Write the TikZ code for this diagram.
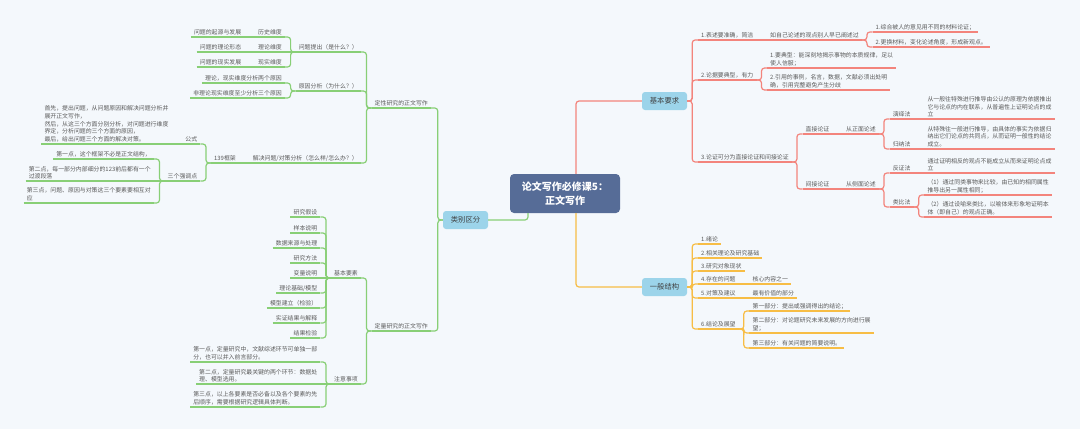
\documentclass[tikz,border=0pt]{standalone}
\usepackage{fontspec}
\setmainfont{Noto Sans CJK SC}
\usetikzlibrary{positioning}

\definecolor{bgc}{HTML}{F4F8FC}
\definecolor{txtc}{HTML}{5A5A5A}
\definecolor{lgreen}{HTML}{88CF76}
\definecolor{lred}{HTML}{F3847C}
\definecolor{lorange}{HTML}{F7BD45}
\definecolor{bluebox}{HTML}{9CD4EA}
\definecolor{rootc}{HTML}{566C97}

\tikzset{
  tp/.style={font=\fontsize{5.9}{7.7}\selectfont, text=txtc, inner xsep=3pt, inner ysep=1.6pt, align=left},
  gline/.style={draw=lgreen, line width=1.2pt, rounded corners=3pt},
  rline/.style={draw=lred, line width=1.2pt, rounded corners=3pt},
  oline/.style={draw=lorange, line width=1.2pt, rounded corners=3pt},
  gt/.style={tp, anchor=south east, append after command={(\tikzlastnode.south west) edge[gline] (\tikzlastnode.south east)}},
  rt/.style={tp, anchor=south west, append after command={(\tikzlastnode.south west) edge[rline] (\tikzlastnode.south east)}},
  ot/.style={tp, anchor=south west, append after command={(\tikzlastnode.south west) edge[oline] (\tikzlastnode.south east)}},
  lj/.style={to path={-- ++(-5pt,0) |- (\tikztotarget)}},
  rj/.style={to path={-- ++(5pt,0) |- (\tikztotarget)}},
  mainbox/.style={fill=bluebox, rounded corners=3pt, minimum width=45pt, minimum height=18pt, font=\fontsize{7.3}{9}\selectfont, text=black!75},
  rootbox/.style={fill=rootc, rounded corners=4pt, minimum width=110pt, minimum height=39pt, font=\fontsize{10}{14}\selectfont\bfseries, text=white, align=center}
}

\begin{document}
\begin{tikzpicture}[x=1pt,y=-1pt]
\fill[bgc] (0,0) rectangle (1080,429);
\useasboundingbox (0,0) rectangle (1080,429);

\node[rootbox] (root) at (565,193.5) {论文写作必修课5：\\正文写作};
\node[mainbox] (lbqf) at (465.5,220) {类别区分};
\node[mainbox] (jbyq) at (664.5,101) {基本要求};
\node[mainbox] (ybjg) at (664.5,287) {一般结构};

\draw[gline] ([xshift=-37pt]root.south) |- (lbqf.east);
\draw[rline] ([xshift=11pt]root.north) |- (jbyq.west);
\draw[oline] ([xshift=11pt]root.south) |- (ybjg.west);

% 类别区分
\node[gt] (dxyj) at (431,108) {定性研究的正文写作};
\node[gt] (dlyj) at (431,331) {定量研究的正文写作};
\path[gline] (lbqf.west) edge[lj] (dxyj.south east) edge[lj] (dlyj.south east);

\node[gt] (wttc) at (361,52) {问题提出（是什么？）};
\node[gt] (yyfx) at (361,91) {原因分析（为什么？）};
\node[gt] (jjwt) at (361,163) {解决问题/对策分析（怎么样/怎么办？）};
\path[gline] (dxyj.south west) edge[lj] (wttc.south east) edge[lj] (yyfx.south east) edge[lj] (jjwt.south east);

\node[gt] (lswd) at (285,37) {历史维度};
\node[gt] (llwd) at (285,52) {理论维度};
\node[gt] (xswd) at (285,67) {现实维度};
\path[gline] (wttc.south west) edge[lj] (lswd.south east) edge (llwd.south east) edge[lj] (xswd.south east);
\node[gt] (lsfz) at (244.4,37) {问题的起源与发展};
\node[gt] (llxt) at (244.4,52) {问题的理论形态};
\node[gt] (xsfz) at (244.4,67) {问题的现实发展};
\path[gline] (lswd.south west) edge (lsfz.south east);
\path[gline] (llwd.south west) edge (llxt.south east);
\path[gline] (xswd.south west) edge (xsfz.south east);

\node[gt] (yy2) at (285,83) {理论，现实维度分析两个原因};
\node[gt] (yy3) at (285,98) {非理论现实维度至少分析三个原因};
\path[gline] (yyfx.south west) edge[lj] (yy2.south east) edge[lj] (yy3.south east);

\node[gt] (kj139) at (239,163) {139框架};
\path[gline] (jjwt.south west) edge (kj139.south east);
\node[gt] (gs) at (200.4,144) {公式};
\node[gt] (qdd) at (200.4,181) {三个强调点};
\path[gline] (kj139.south west) edge[lj] (gs.south east) edge[lj] (qdd.south east);
\node[gt] (gsnr) at (171.6,144) {首先，提出问题，从问题原因和解决问题分析并\\展开正文写作，\\然后，从这三个方面分别分析，对问题进行维度\\界定，分析问题的三个方面的原因，\\最后，给出问题三个方面的解决对策。};
\path[gline] (gs.south west) edge (gsnr.south east);
\node[gt] (qd1) at (153.9,159) {第一点，这个框架不必是正文结构，};
\node[gt] (qd2) at (153.9,181) {第二点，每一部分内部细分的123前后都有一个\\过渡段落};
\node[gt] (qd3) at (153.9,203) {第三点，问题、原因与对策这三个要素要相互对\\应};
\path[gline] (qdd.south west) edge[lj] (qd1.south east) edge (qd2.south east) edge[lj] (qd3.south east);

\node[gt] (jbys) at (361,278) {基本要素};
\node[gt] (zysx) at (361,384) {注意事项};
\path[gline] (dlyj.south west) edge[lj] (jbys.south east) edge[lj] (zysx.south east);
\node[gt] (ys1) at (320.4,217) {研究假设};
\node[gt] (ys2) at (320.4,233) {样本说明};
\node[gt] (ys3) at (320.4,248) {数据来源与处理};
\node[gt] (ys4) at (320.4,263) {研究方法};
\node[gt] (ys5) at (320.4,278) {变量说明};
\node[gt] (ys6) at (320.4,293) {理论基础/模型};
\node[gt] (ys7) at (320.4,308) {模型建立（检验）};
\node[gt] (ys8) at (320.4,323) {实证结果与解释};
\node[gt] (ys9) at (320.4,338) {结果检验};
\path[gline] (jbys.south west) edge[lj] (ys1.south east) edge[lj] (ys2.south east) edge[lj] (ys3.south east) edge[lj] (ys4.south east) edge (ys5.south east) edge[lj] (ys6.south east) edge[lj] (ys7.south east) edge[lj] (ys8.south east) edge[lj] (ys9.south east);
\node[gt] (zy1) at (320.4,362) {第一点，定量研究中，文献综述环节可单独一部\\分，也可以并入前言部分。};
\node[gt] (zy2) at (320.4,384) {第二点，定量研究最关键的两个环节：数据处\\理、模型选用。};
\node[gt] (zy3) at (320.4,407) {第三点，以上各要素是否必备以及各个要素的先\\后顺序，需要根据研究逻辑具体判断。};
\path[gline] (zysx.south west) edge[lj] (zy1.south east) edge (zy2.south east) edge[lj] (zy3.south east);

% 基本要求
\node[rt] (yq1) at (698,40) {1.表述要准确，简洁};
\node[rt] (yq2) at (698,80) {2.论据要典型，有力};
\node[rt] (yq3) at (698,162) {3.论证可分为直接论证和间接论证};
\path[rline] (jbyq.east) edge[rj] (yq1.south west) edge[rj] (yq2.south west) edge[rj] (yq3.south west);

\node[rt] (cf) at (767,40) {如自己论述的观点别人早已阐述过};
\path[rline] (yq1.south east) edge (cf.south west);
\node[rt] (cf1) at (872.5,32) {1.综合被人的意见用不同的材料论证；};
\node[rt] (cf2) at (872.5,47) {2.更换材料，变化论述角度，形成新观点。};
\path[rline] (cf.south east) edge[rj] (cf1.south west) edge[rj] (cf2.south west);

\node[rt] (lj1) at (767,68) {1.要典型：能深刻地揭示事物的本质规律，足以\\使人信服；};
\node[rt] (lj2) at (767,90) {2.引用的事例，名言，数据，文献必须出处明\\确，引用完整避免产生分歧};
\path[rline] (yq2.south east) edge[rj] (lj1.south west) edge[rj] (lj2.south west);

\node[rt] (zjlz) at (802.5,134) {直接论证};
\node[rt] (jjlz) at (802.5,189) {间接论证};
\path[rline] (yq3.south east) edge[rj] (zjlz.south west) edge[rj] (jjlz.south west);
\node[rt] (zmls) at (843,134) {从正面论述};
\node[rt] (cmls) at (843,189) {从侧面论述};
\path[rline] (zjlz.south east) edge (zmls.south west);
\path[rline] (jjlz.south east) edge (cmls.south west);

\node[rt] (yyf) at (889.6,119) {演绎法};
\node[rt] (gnf) at (889.6,149) {归纳法};
\path[rline] (zmls.south east) edge[rj] (yyf.south west) edge[rj] (gnf.south west);
\node[rt] (yyfs) at (924.3,119) {从一般往特殊进行推导由公认的原理为依据推出\\它与论点的内在联系，从普遍性上证明论点的成\\立};
\node[rt] (gnfs) at (924.3,149) {从特殊往一般进行推导，由具体的事实为依据归\\纳出它们论点的共同点，从而证明一般性的结论\\成立。};
\path[rline] (yyf.south east) edge (yyfs.south west);
\path[rline] (gnf.south east) edge (gnfs.south west);

\node[rt] (fzf) at (889.6,173) {反证法};
\node[rt] (lbf) at (889.6,207) {类比法};
\path[rline] (cmls.south east) edge[rj] (fzf.south west) edge[rj] (lbf.south west);
\node[rt] (fzfs) at (924.3,173) {通过证明相反的观点不能成立从而来证明论点成\\立};
\path[rline] (fzf.south east) edge (fzfs.south west);
\node[rt] (lb1) at (924.3,195) {（1）通过同类事物来比较，由已知的相同属性\\推导出另一属性相同；};
\node[rt] (lb2) at (924.3,217) {（2）通过设喻来类比，以喻体来形象地证明本\\体（即自己）的观点正确。};
\path[rline] (lbf.south east) edge[rj] (lb1.south west) edge[rj] (lb2.south west);

% 一般结构
\node[ot] (jg1) at (698,244) {1.绪论};
\node[ot] (jg2) at (698,258) {2.相关理论及研究基础};
\node[ot] (jg3) at (698,271) {3.研究对象现状};
\node[ot] (jg4) at (698,284) {4.存在的问题};
\node[ot] (jg5) at (698,298) {5.对策及建议};
\node[ot] (jg6) at (698,329) {6.结论及展望};
\path[oline] (ybjg.east) edge[rj] (jg1.south west) edge[rj] (jg2.south west) edge[rj] (jg3.south west) edge[rj] (jg4.south west) edge[rj] (jg5.south west) edge[rj] (jg6.south west);
\node[ot] (hx) at (749.4,284) {核心内容之一};
\node[ot] (jz) at (749.4,298) {最有价值的部分};
\path[oline] (jg4.south east) edge (hx.south west);
\path[oline] (jg5.south east) edge (jz.south west);
\node[ot] (bf1) at (749.4,311) {第一部分：提出或强调得出的结论；};
\node[ot] (bf2) at (749.4,333) {第二部分：对论题研究未来发展的方向进行展\\望；};
\node[ot] (bf3) at (749.4,348) {第三部分：有关问题的简要说明。};
\path[oline] (jg6.south east) edge[rj] (bf1.south west) edge[rj] (bf2.south west) edge[rj] (bf3.south west);

\end{tikzpicture}
\end{document}
